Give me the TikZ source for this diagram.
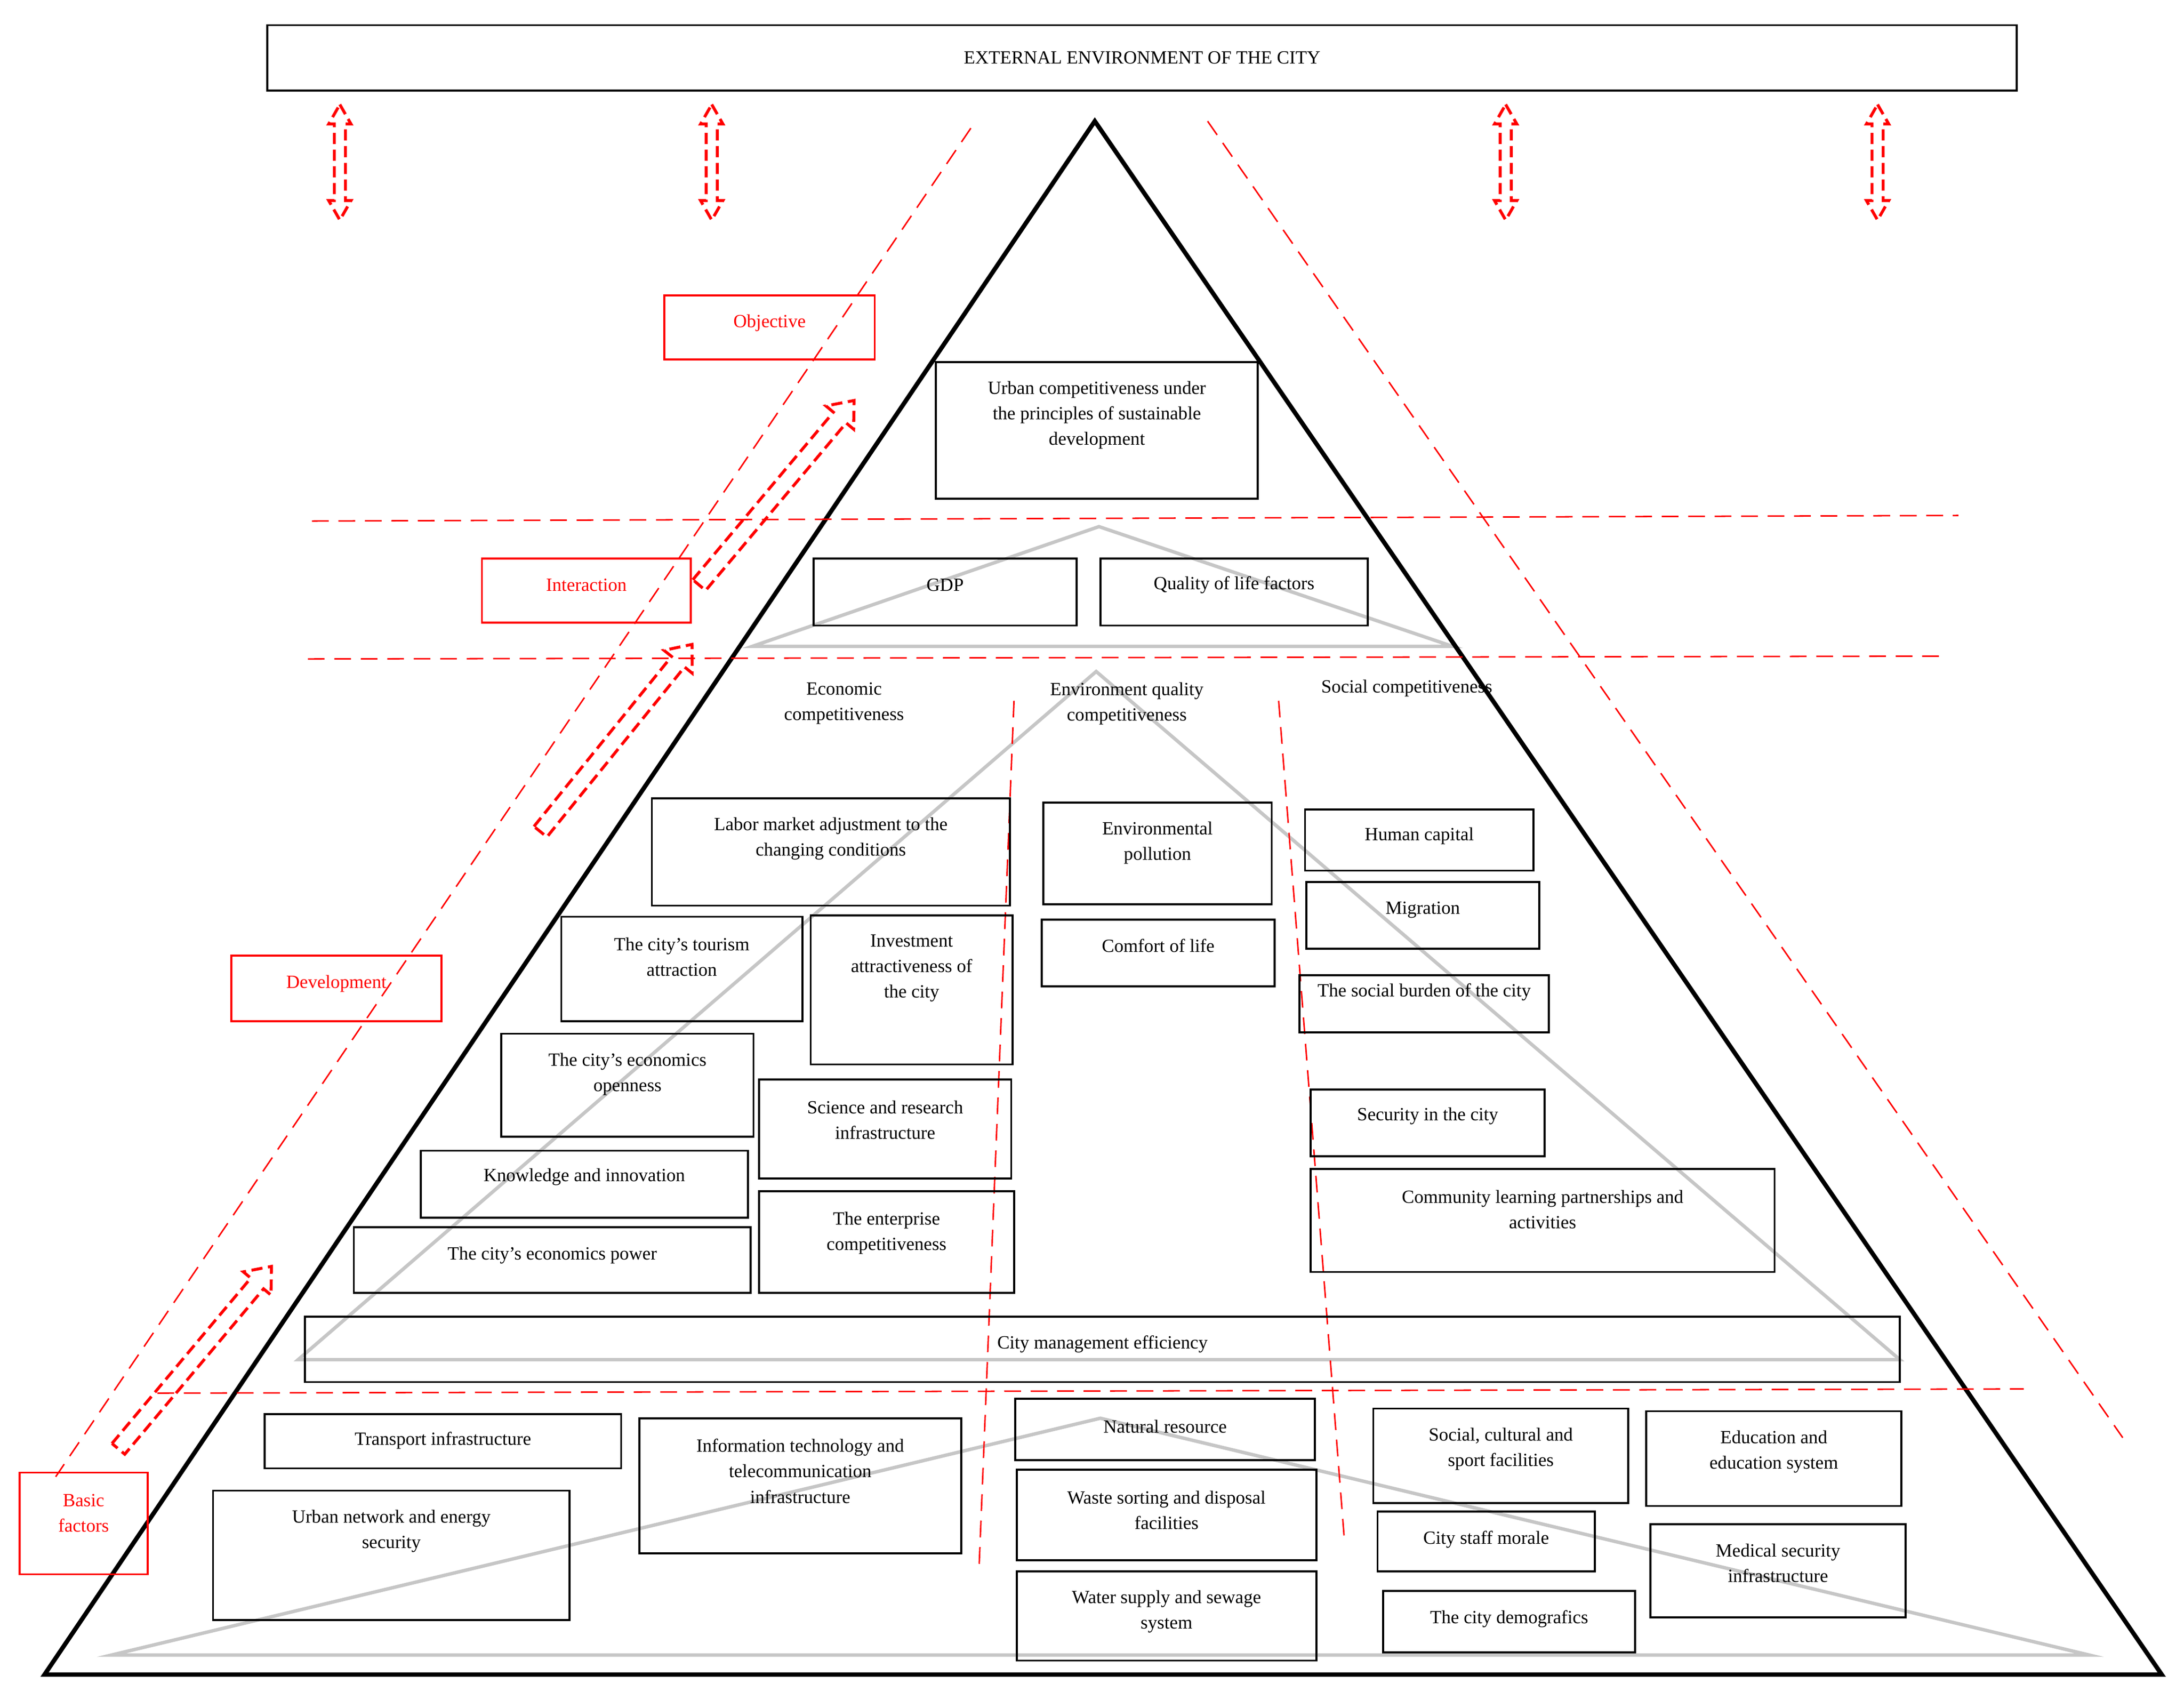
\documentclass[tikz,border=0pt]{standalone}
\usepackage{fontspec}
\setmainfont{Liberation Serif}
\usetikzlibrary{fit}
\begin{document}
\begin{tikzpicture}[x=1mm,y=-1mm,
  box/.style={draw=black,line width=4pt,inner sep=0pt},
  rbox/.style={draw=red,line width=4pt,inner sep=0pt},
  txt/.style={font=\fontsize{38}{52}\selectfont,align=center,inner sep=0pt},
  rtxt/.style={txt,text=red},
  rdash/.style={red,line width=3pt,dash pattern=on 12mm off 7mm},
  rarrow/.style={red,line width=6pt,dash pattern=on 8mm off 4mm},
  grey/.style={gray!45,line width=7pt},
  tri/.style={black,line width=9pt,line join=miter}]
\useasboundingbox (0,0) rectangle (1568,1220);
\newcommand\bx[7]{\node[box,fit={(#2,#3) (#4,#5)}] (#1) {};
  \node[txt] (#1t) at ({(#2+#4)/2},#6) {#7};}
\newcommand\rbx[7]{\node[rbox,fit={(#2,#3) (#4,#5)}] (#1) {};
  \node[rtxt] (#1t) at ({(#2+#4)/2},#6) {#7};}
\newcommand\varr[1]{\draw[rarrow] (#1,75) -- (#1+8,89) -- (#1+4,89) -- (#1+4,144) -- (#1+8,144) -- (#1,158) -- (#1-8,144) -- (#1-4,144) -- (#1-4,89) -- (#1-8,89) -- cycle;}
\newcommand\darr[4]{\begin{scope}[shift={(#1,#2)},rotate=#3]
  \draw[rarrow] (0,-6) -- (#4-16,-6) -- (#4-16,-13) -- (#4,0) -- (#4-16,13) -- (#4-16,6) -- (0,6) -- cycle;\end{scope}}
% external box
\node[box,fit={(192,18) (1448,65)}] (ext) {};
\node[txt] (extt) at (ext) {EXTERNAL ENVIRONMENT OF THE CITY};
\varr{244}\varr{511}\varr{1081}\varr{1348}
% grey triangles
\draw[grey] (789,378) -- (540,464) -- (1043,464) -- cycle;
\draw[grey] (787,482) -- (214,976) -- (1364,976) -- cycle;
\draw[grey] (790,1018) -- (80,1188) -- (1500,1188) -- cycle;
% main triangle
\draw[tri] (786,87) -- (32,1202) -- (1552,1202) -- cycle;
% red dashed lines
\draw[rdash] (697,92) -- (40,1060);
\draw[rdash] (867,87) -- (1524,1032);
\draw[rdash] (224,374) -- (1406,370);
\draw[rdash] (221,473) -- (1396,471);
\draw[rdash] (113,1000) -- (1453,997);
\draw[rdash] (728,503) -- (703,1123);
\draw[rdash] (918,503) -- (965,1103);
% red diagonal arrows
\darr{502}{420}{50}{173}
\darr{388}{597}{51}{173}
\darr{85}{1040}{50}{171}
% red labels
\rbx{obj}{477}{212}{628}{258}{232}{Objective}
\rbx{inter}{346}{401}{496}{447}{420}{Interaction}
\rbx{dev}{166}{686}{317}{733}{706}{Development}
\rbx{basic}{14}{1057}{106}{1130}{1086}{Basic\\factors}
% boxes
\bx{urban}{672}{260}{903}{358}{298}{Urban competitiveness under\\the principles of sustainable\\development}
\bx{gdp}{584}{401}{773}{449}{420}{GDP}
\bx{qol}{790}{401}{982}{449}{420}{Quality of life factors}
\node[txt] (econ) at (606,505) {Economic\\competitiveness};
\node[txt] (envq) at (809,505) {Environment quality\\competitiveness};
\node[txt] (soc) at (1010,494) {Social competitiveness};
\bx{labor}{468}{573}{725}{650}{602}{Labor market adjustment to the\\changing conditions}
\bx{pollu}{749}{576}{913}{649}{605}{Environmental\\pollution}
\bx{comfort}{748}{660}{915}{708}{679}{Comfort of life}
\bx{human}{937}{581}{1101}{625}{600}{Human capital}
\bx{migr}{938}{633}{1105}{681}{653}{Migration}
\bx{burden}{933}{700}{1112}{741}{712}{The social burden of the city}
\bx{tour}{403}{658}{576}{733}{687}{The city's tourism\\attraction}
\bx{invest}{582}{657}{727}{764}{695}{Investment\\attractiveness of\\the city}
\bx{open}{360}{742}{541}{816}{771}{The city's economics\\openness}
\bx{sci}{545}{775}{726}{846}{804}{Science and research\\infrastructure}
\bx{secur}{941}{782}{1109}{830}{801}{Security in the city}
\bx{commu}{941}{839}{1274}{913}{868}{Community learning partnerships and\\activities}
\bx{know}{302}{826}{537}{874}{845}{Knowledge and innovation}
\bx{power}{254}{881}{539}{928}{901}{The city's economics power}
\bx{enter}{545}{855}{728}{928}{885}{The enterprise\\competitiveness}
\bx{mgmt}{219}{945}{1364}{992}{965}{City management efficiency}
\bx{trans}{190}{1015}{446}{1054}{1034}{Transport infrastructure}
\bx{net}{153}{1070}{409}{1163}{1099}{Urban network and energy\\security}
\bx{it}{459}{1018}{690}{1115}{1056}{Information technology and\\telecommunication\\infrastructure}
\bx{nat}{729}{1004}{944}{1048}{1024}{Natural resource}
\bx{waste}{730}{1055}{945}{1120}{1084}{Waste sorting and disposal\\facilities}
\bx{water}{730}{1128}{945}{1192}{1157}{Water supply and sewage\\system}
\bx{scs}{986}{1011}{1169}{1079}{1040}{Social, cultural and\\sport facilities}
\bx{edu}{1182}{1013}{1365}{1081}{1042}{Education and\\education system}
\bx{staff}{989}{1085}{1145}{1128}{1105}{City staff morale}
\bx{med}{1185}{1094}{1368}{1161}{1122}{Medical security\\infrastructure}
\bx{demo}{993}{1142}{1174}{1186}{1162}{The city demografics}
\end{tikzpicture}
\end{document}
